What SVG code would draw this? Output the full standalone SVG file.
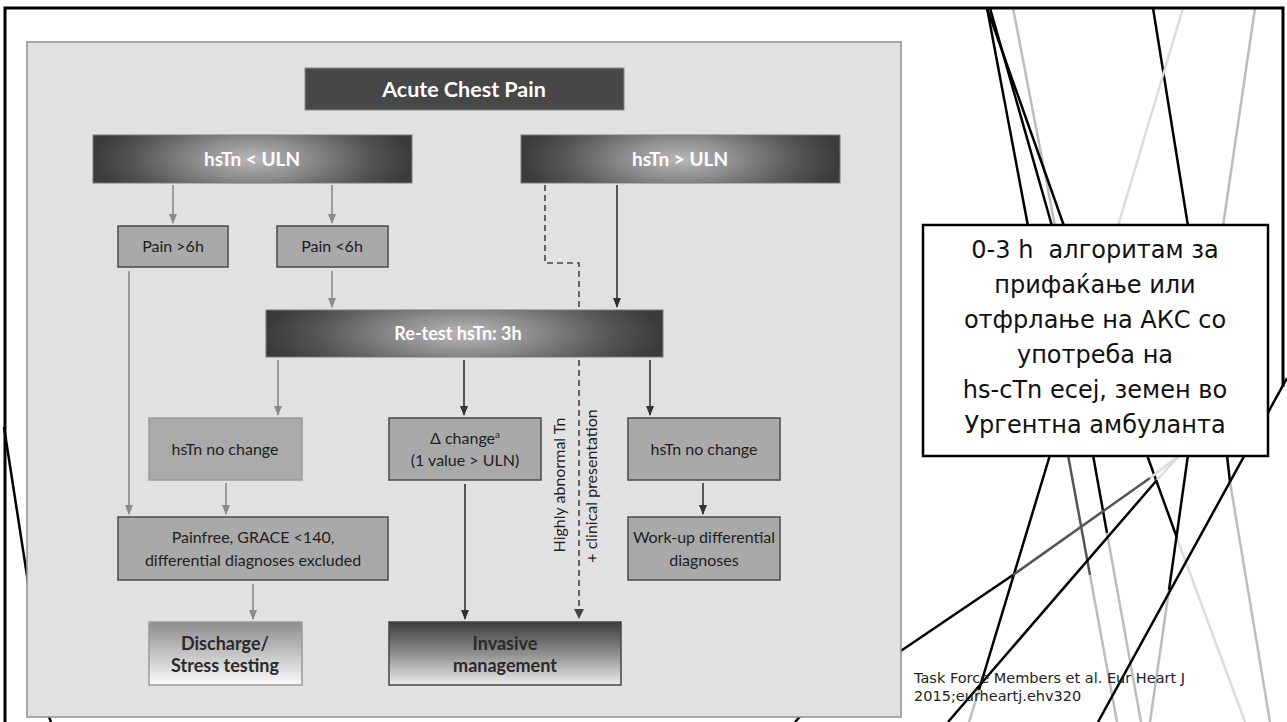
<svg xmlns="http://www.w3.org/2000/svg" width="1287" height="722" viewBox="0 0 1287 722">
<defs>
  <radialGradient id="hdr" cx="0.5" cy="0.5" r="0.5" gradientTransform="translate(0.5,0.5) scale(1,2.4) translate(-0.5,-0.5)">
    <stop offset="0" stop-color="#b8b8b8"/>
    <stop offset="0.35" stop-color="#8c8c8c"/>
    <stop offset="0.75" stop-color="#545454"/>
    <stop offset="1" stop-color="#3b3b3b"/>
  </radialGradient>
  <linearGradient id="gDis" x1="0" y1="0" x2="0" y2="1">
    <stop offset="0" stop-color="#8c8c8c"/>
    <stop offset="1" stop-color="#fbfbfb"/>
  </linearGradient>
  <linearGradient id="gInv" x1="0" y1="0" x2="0" y2="1">
    <stop offset="0" stop-color="#3c3c3c"/>
    <stop offset="0.5" stop-color="#8e8e8e"/>
    <stop offset="1" stop-color="#ededed"/>
  </linearGradient>
  <marker id="ag" markerUnits="userSpaceOnUse" markerWidth="10" markerHeight="8" refX="9" refY="4" orient="auto">
    <path d="M0,0 L10,4 L0,8 z" fill="#8a8a8a"/>
  </marker>
  <marker id="ad" markerUnits="userSpaceOnUse" markerWidth="10" markerHeight="8" refX="9" refY="4" orient="auto">
    <path d="M0,0 L10,4 L0,8 z" fill="#333"/>
  </marker>
  <style>
    .deco line{stroke-width:2.5;fill:none}
    .k{stroke:#000}
    .g1{stroke:#bdbdbd}
    .g2{stroke:#dcdcdc}
    .g3{stroke:#555}
    .hdr{fill:url(#hdr);stroke:#7a7a7a;stroke-width:1}
    .mid{fill:#a9a9a9;stroke:#4a4a4a;stroke-width:1.5}
    .midl{fill:#aaaaaa;stroke:#9a9a9a;stroke-width:1.5}
    .ht{font-family:Lato,"Liberation Sans",sans-serif;font-weight:700;fill:#fff;text-anchor:middle}
    .tx{font-family:Lato,"Liberation Sans",sans-serif;font-size:16px;fill:#1e1e1e;text-anchor:middle}
    .bt{font-family:Lato,"Liberation Sans",sans-serif;font-size:18px;font-weight:700;fill:#2a2a2a;text-anchor:middle}
    .ga{stroke:#8a8a8a;stroke-width:1.6;fill:none;marker-end:url(#ag)}
    .da{stroke:#333;stroke-width:1.6;fill:none;marker-end:url(#ad)}
    .ds{stroke:#444;stroke-width:1.6;fill:none;stroke-dasharray:6 4}
    .box{font-family:"DejaVu Sans","Noto Sans",sans-serif;font-size:24px;fill:#111;text-anchor:middle}
    .cit{font-family:"DejaVu Sans","Noto Sans",sans-serif;font-size:14.5px;fill:#222}
  </style>
</defs>
<rect width="1287" height="722" fill="#fff"/>

<g id="decor" class="deco">
  <line class="k" x1="987" y1="8" x2="1028" y2="226"/>
  <line class="g1" x1="1013" y1="8" x2="1055" y2="226"/>
  <line class="k" x1="990" y1="8" x2="1052" y2="226"/>
  <line class="k" x1="987" y1="8" x2="1064" y2="226"/>
  <line class="k" x1="1153" y1="8" x2="1188" y2="226"/>
  <line class="g2" x1="1183" y1="8" x2="1118" y2="226"/>
  <line class="g1" x1="1255" y1="8" x2="1223" y2="226"/>

  <line class="k" x1="1050" y1="455" x2="979" y2="690"/>
  <line class="g1" x1="979" y1="690" x2="969" y2="722"/>
  <line class="g3" x1="1068" y1="455" x2="1090" y2="575"/>
  <line class="g1" x1="1090" y1="575" x2="1117" y2="722"/>
  <line class="k" x1="1093" y1="455" x2="1107" y2="533"/>
  <line class="g1" x1="1107" y1="533" x2="1141" y2="722"/>
  <line class="k" x1="1147" y1="455" x2="1177" y2="538"/>
  <line class="g2" x1="1177" y1="538" x2="1245" y2="722"/>
  <line class="k" x1="1188" y1="455" x2="1169" y2="590"/>
  <line class="g1" x1="1169" y1="590" x2="1150" y2="722"/>
  <line class="k" x1="1227" y1="455" x2="1230" y2="482"/>
  <line class="g1" x1="1230" y1="482" x2="1270" y2="722"/>
  <line class="g2" x1="1180" y1="455" x2="1155" y2="482"/>
  <line class="k" x1="1157" y1="480" x2="948" y2="722"/>
  <line class="g2" x1="1180" y1="455" x2="1150" y2="478"/>
  <line class="g3" x1="1150" y1="478" x2="1013" y2="575"/>
  <line class="k" x1="1013" y1="575" x2="880" y2="665"/>
  <line class="k" x1="1287" y1="378" x2="1098" y2="722"/>

  <line class="k" x1="4" y1="427" x2="30" y2="595"/>
  <line class="k" x1="47" y1="712" x2="51" y2="722"/>
  <line class="k" x1="804" y1="712" x2="795" y2="722"/>
</g>

<path id="frame" d="M5,722 V8 H1283 V387" fill="none" stroke="#000" stroke-width="3"/>

<rect id="panel" x="27" y="42" width="874" height="675" fill="#e1e1e1" stroke="#8f8f8f" stroke-width="1.5"/>

<g id="connectors">
  <line class="ga" x1="173" y1="185" x2="173" y2="223"/>
  <line class="ga" x1="332" y1="185" x2="332" y2="223"/>
  <line class="ga" x1="332" y1="271" x2="332" y2="307"/>
  <line class="ga" x1="129" y1="271" x2="129" y2="514"/>
  <line class="ga" x1="278" y1="360" x2="278" y2="415"/>
  <line class="ga" x1="226" y1="483" x2="226" y2="514"/>
  <line class="ga" x1="253" y1="584" x2="253" y2="619"/>
  <line class="da" x1="617" y1="185" x2="617" y2="307"/>
  <line class="da" x1="464" y1="360" x2="464" y2="415"/>
  <line class="da" x1="465" y1="484" x2="465" y2="619"/>
  <line class="da" x1="650" y1="360" x2="650" y2="415"/>
  <line class="da" x1="703" y1="483" x2="703" y2="514"/>
  <path class="ds" d="M545,185 V263 H579 V310"/>
  <path class="ds" d="M579,360 V613"/>
  <path d="M574,609 L579,619 L584,609 z" fill="#444"/>
</g>

<g id="n-acute">
  <rect x="305" y="68" width="319" height="42" fill="#474747" stroke="#8a8a8a" stroke-width="1"/>
  <text class="ht" x="464" y="97" font-size="21.5">Acute Chest Pain</text>
</g>
<g id="n-below">
  <rect class="hdr" x="93" y="135" width="319" height="48"/>
  <text class="ht" x="252" y="166" font-size="19">hsTn &lt; ULN</text>
</g>
<g id="n-above">
  <rect class="hdr" x="521" y="135" width="319" height="48"/>
  <text class="ht" x="680" y="166" font-size="19">hsTn &gt; ULN</text>
</g>
<g id="n-pain6more">
  <rect class="mid" x="118" y="226" width="110" height="41"/>
  <text class="tx" x="173" y="252">Pain &gt;6h</text>
</g>
<g id="n-pain6less">
  <rect class="mid" x="277" y="226" width="111" height="41"/>
  <text class="tx" x="332" y="252">Pain &lt;6h</text>
</g>
<g id="n-retest">
  <rect class="hdr" x="266" y="310" width="397" height="47"/>
  <text class="ht" x="458" y="340" font-size="18">Re-test hsTn: 3h</text>
</g>
<g id="n-nochange-l">
  <rect class="midl" x="149" y="418" width="153" height="62"/>
  <text class="tx" x="225" y="455">hsTn no change</text>
</g>
<g id="n-delta">
  <rect class="mid" x="389" y="418" width="152" height="62"/>
  <text class="tx" x="465" y="444">Δ change<tspan font-size="10" dy="-6">a</tspan></text>
  <text class="tx" x="465" y="466">(1 value &gt; ULN)</text>
</g>
<g id="n-nochange-r">
  <rect class="mid" x="628" y="418" width="152" height="62"/>
  <text class="tx" x="704" y="455">hsTn no change</text>
</g>
<g id="n-painfree">
  <rect class="mid" x="118" y="517" width="270" height="63"/>
  <text class="tx" x="253" y="543">Painfree, GRACE &lt;140,</text>
  <text class="tx" x="253" y="566">differential diagnoses excluded</text>
</g>
<g id="n-workup">
  <rect class="mid" x="628" y="517" width="152" height="63"/>
  <text class="tx" x="704" y="543">Work-up differential</text>
  <text class="tx" x="704" y="566">diagnoses</text>
</g>
<g id="n-discharge">
  <rect x="149" y="622" width="153" height="63" fill="url(#gDis)" stroke="#9a9a9a" stroke-width="1.5"/>
  <text class="bt" x="225" y="650">Discharge/</text>
  <text class="bt" x="225" y="672">Stress testing</text>
</g>
<g id="n-invasive">
  <rect x="389" y="622" width="232" height="63" fill="url(#gInv)" stroke="#444" stroke-width="1.5"/>
  <text class="bt" x="505" y="650">Invasive</text>
  <text class="bt" x="505" y="672">management</text>
</g>
<g id="lbl-dashed">
  <text class="tx" transform="translate(565,485) rotate(-90)">Highly abnormal Tn</text>
  <text class="tx" transform="translate(597,486) rotate(-90)">+ clinical presentation</text>
</g>

<g id="n-note">
  <rect x="923" y="225" width="345" height="231" fill="#fff" stroke="#000" stroke-width="2.5"/>
  <text class="box" x="1095" y="258">0-3 h&#160; алгоритам за</text>
  <text class="box" x="1095" y="293">прифаќање или</text>
  <text class="box" x="1095" y="328">отфрлање на АКС со</text>
  <text class="box" x="1095" y="363">употреба на</text>
  <text class="box" x="1095" y="398">hs-cTn есеј, земен во</text>
  <text class="box" x="1095" y="433">Ургентна амбуланта</text>
</g>
<g id="citation">
  <text class="cit" x="914" y="683">Task Force Members et al. Eur Heart J</text>
  <text class="cit" x="914" y="701">2015;eurheartj.ehv320</text>
</g>
</svg>
